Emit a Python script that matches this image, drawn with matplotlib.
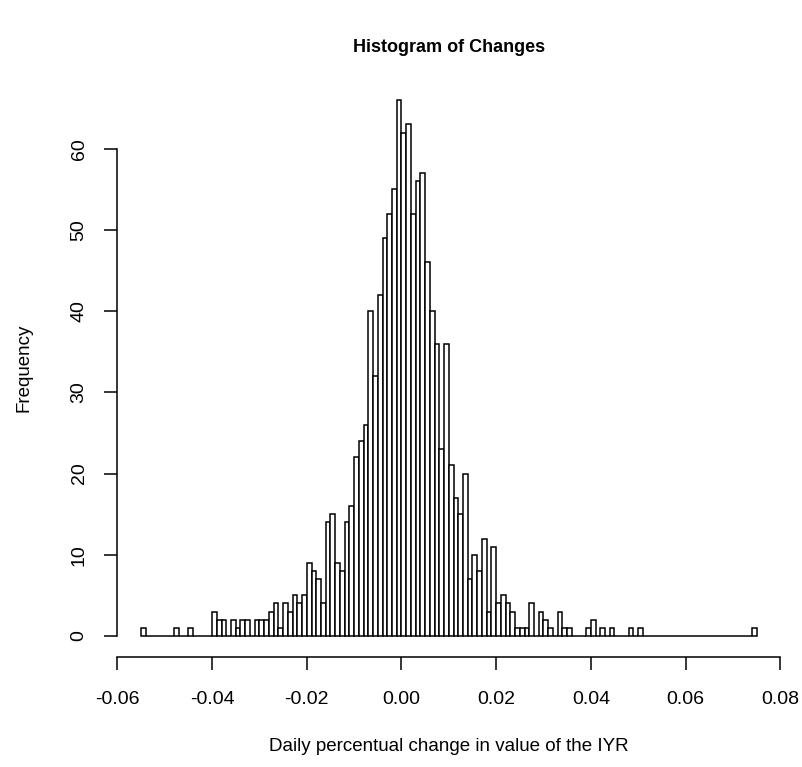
import numpy as np
import matplotlib
matplotlib.use("Agg")
import matplotlib.pyplot as plt

plt.rcParams["font.family"] = ["Liberation Sans", "DejaVu Sans"]
plt.rcParams["axes.unicode_minus"] = False

# histogram counts, bins of width 0.001 starting at -0.055
bin_start = -0.055
bin_width = 0.001
counts = [
    1, 0, 0, 0, 0, 0, 0, 1, 0, 0,      # -0.055 .. -0.046
    1, 0, 0, 0, 0, 3, 2, 2, 0, 2,      # -0.045 .. -0.036
    1, 2, 2, 0, 2, 2, 2, 3, 4, 1,      # -0.035 .. -0.026
    4, 3, 5, 4, 5, 9, 8, 7, 4, 14,     # -0.025 .. -0.016
    15, 9, 8, 14, 16, 22, 24, 26, 40, 32,   # -0.015 .. -0.006
    42, 49, 52, 55, 66, 62, 63, 52, 56, 57,  # -0.005 .. 0.004
    46, 40, 36, 23, 36, 21, 17, 15, 20, 7,   # 0.005 .. 0.014
    10, 8, 12, 3, 11, 4, 5, 4, 3, 1,   # 0.015 .. 0.024
    1, 1, 4, 0, 3, 2, 1, 0, 3, 1,      # 0.025 .. 0.034
    1, 0, 0, 0, 1, 2, 0, 1, 0, 1,      # 0.035 .. 0.044
    0, 0, 0, 1, 0, 1, 0, 0, 0, 0,      # 0.045 .. 0.054
    0, 0, 0, 0, 0, 0, 0, 0, 0, 0,      # 0.055 .. 0.064
    0, 0, 0, 0, 0, 0, 0, 0, 0, 1,      # 0.065 .. 0.074
]
x_ticks = [-0.06, -0.04, -0.02, 0.00, 0.02, 0.04, 0.06, 0.08]
y_ticks = [0, 10, 20, 30, 40, 50, 60]

edges = bin_start + bin_width * np.arange(len(counts) + 1)

fig = plt.figure(figsize=(8.02, 7.67), dpi=100)
ax = fig.add_axes([0.1464, 0.1429, 0.8264, 0.7546])

ax.bar(edges[:-1], counts, width=bin_width, align="edge",
       facecolor="white", edgecolor="black", linewidth=1.1)

# R-style 4% padding around the data range
x0, x1 = edges[0], edges[-1]
ymax = max(counts)
ax.set_xlim(x0 - 0.04 * (x1 - x0) / 2, x1 + 0.04 * (x1 - x0) / 2)
ax.set_ylim(-0.04 * ymax, ymax * 1.04)

for s in ("top", "right"):
    ax.spines[s].set_visible(False)
ax.spines["bottom"].set_bounds(x_ticks[0], x_ticks[-1])
ax.spines["left"].set_bounds(y_ticks[0], y_ticks[-1])
for s in ("bottom", "left"):
    ax.spines[s].set_linewidth(1.1)

ax.set_xticks(x_ticks)
ax.set_xticklabels([f"{v:.2f}" for v in x_ticks])
ax.set_yticks(y_ticks)
ax.set_yticklabels([str(v) for v in y_ticks], rotation=90, va="center")
ax.tick_params(axis="both", direction="out", length=9.5, width=1.1,
               labelsize=14, colors="black")
ax.tick_params(axis="x", pad=14.5)
ax.tick_params(axis="y", pad=12)

ax.set_xlabel("Daily percentual change in value of the IYR", fontsize=13.5, labelpad=21.5)
ax.set_ylabel("Frequency", fontsize=13.5, labelpad=27.5)
ax.set_title("Histogram of Changes", fontsize=13, fontweight="bold", pad=19)

fig.savefig("out.png", dpi=100, facecolor="white")
